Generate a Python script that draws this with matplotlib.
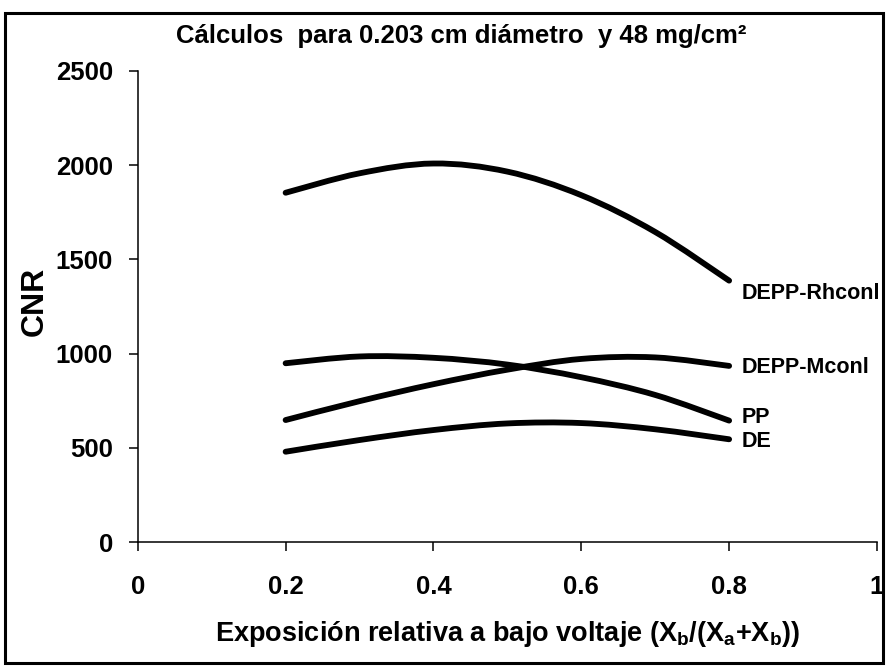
import numpy as np
import matplotlib
matplotlib.use("Agg")
import matplotlib.pyplot as plt
from matplotlib.path import Path
from matplotlib.patches import PathPatch, Rectangle

plt.rcParams["font.family"] = ["Liberation Sans", "DejaVu Sans"]
plt.rcParams["font.weight"] = "bold"
plt.rcParams["mathtext.fontset"] = "custom"
plt.rcParams["mathtext.rm"] = "Liberation Sans:bold"
plt.rcParams["mathtext.it"] = "Liberation Sans:bold"
plt.rcParams["mathtext.bf"] = "Liberation Sans:bold"

# exposure fraction at low voltage
x_vals = [0.2, 0.3, 0.4, 0.5, 0.6, 0.7, 0.8]

# CNR per technique
cnr_rhconl = [1853, 1956, 2008, 1965, 1840, 1645, 1387]
cnr_mconl = [648, 748, 838, 915, 972, 980, 935]
cnr_pp = [949, 985, 978, 942, 875, 781, 645]
cnr_de = [480, 542, 595, 630, 632, 599, 546]

series = [
    ("DEPP-Rhconl", cnr_rhconl, (13, -13)),
    ("DEPP-Mconl", cnr_mconl, (13, -2)),
    ("PP", cnr_pp, (13, 3)),
    ("DE", cnr_de, (13, -2)),
]

x_ticks = [0, 0.2, 0.4, 0.6, 0.8, 1]
x_ticklabels = ["0", "0.2", "0.4", "0.6", "0.8", "1"]
y_ticks = [0, 500, 1000, 1500, 2000, 2500]


def smooth_path(xs, ys, tension=1 / 6):
    """Catmull-Rom style cubic Bezier path through the points."""
    pts = np.column_stack([xs, ys]).astype(float)
    n = len(pts)
    verts = [pts[0]]
    codes = [Path.MOVETO]
    for i in range(n - 1):
        p0 = pts[i - 1] if i > 0 else pts[i]
        p1 = pts[i]
        p2 = pts[i + 1]
        p3 = pts[i + 2] if i + 2 < n else pts[i + 1]
        c1 = p1 + (p2 - p0) * tension
        c2 = p2 - (p3 - p1) * tension
        verts += [c1, c2, p2]
        codes += [Path.CURVE4] * 3
    return Path(verts, codes)


fig = plt.figure(figsize=(8.86, 6.67), dpi=100)
ax = fig.add_axes([0.1555, 0.187, 0.8343, 0.707])

for name, vals, offset in series:
    patch = PathPatch(smooth_path(x_vals, vals), facecolor="none",
                      edgecolor="black", lw=4.2, capstyle="round",
                      joinstyle="round")
    ax.add_patch(patch)
    ax.annotate(name, xy=(x_vals[-1], vals[-1]), xytext=offset,
                textcoords="offset pixels", ha="left", va="center",
                fontsize=15.5, fontweight="bold")

ax.set_xlim(0, 1)
ax.set_ylim(0, 2500)
ax.set_xticks(x_ticks)
ax.set_xticklabels(x_ticklabels)
ax.set_yticks(y_ticks)

for side in ["top", "right"]:
    ax.spines[side].set_visible(False)
for side in ["left", "bottom"]:
    ax.spines[side].set_linewidth(1.1)

ax.tick_params(axis="both", direction="out", length=6.5, width=1.1,
               labelsize=18.5)
ax.tick_params(axis="y", pad=11.5)
ax.tick_params(axis="x", pad=17)

ax.set_ylabel("CNR", fontsize=23, fontweight="bold")
ax.yaxis.set_label_coords(-0.14, 0.51)
ax.yaxis.label.set_va("center")

ax.set_xlabel(r"Exposición relativa a bajo voltaje (X$_{b}$/(X$_{a}$+X$_{b}$))",
              fontsize=19.5, fontweight="bold")
ax.xaxis.set_label_coords(0.5, -0.194)
ax.xaxis.label.set_va("center")

fig.text(0.521, 0.946, "Cálculos  para 0.203 cm diámetro  y 48 mg/cm²",
         ha="center", va="center", fontsize=18.5, fontweight="bold")

# frame around the whole chart
fig.patches.append(Rectangle((5 / 886, 4 / 667), 878 / 886, 650 / 667,
                             transform=fig.transFigure, fill=False,
                             edgecolor="black", lw=2.2))

fig.savefig("out.png", dpi=100, facecolor="white")
